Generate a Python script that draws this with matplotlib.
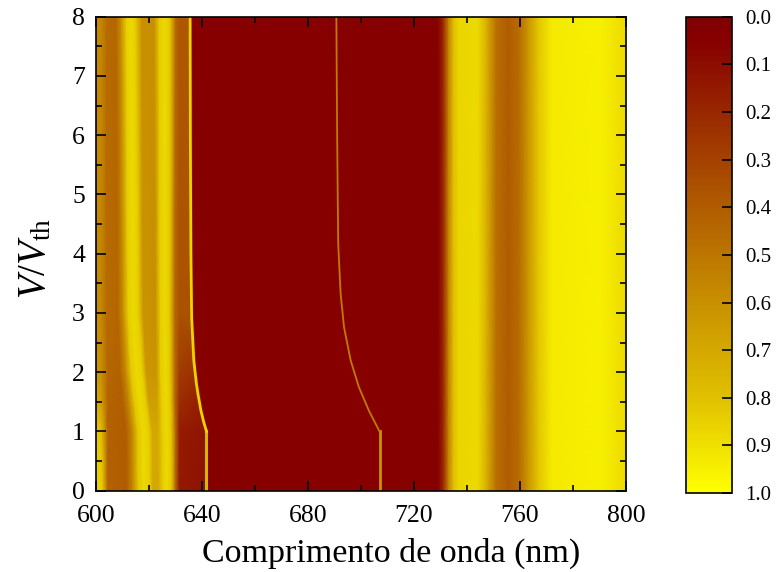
import numpy as np
import matplotlib
matplotlib.use("Agg")
import matplotlib.pyplot as plt
from matplotlib.colors import LinearSegmentedColormap

plt.rcParams['font.family'] = ['Liberation Serif', 'DejaVu Serif']
plt.rcParams['mathtext.fontset'] = 'custom'
plt.rcParams['mathtext.rm'] = 'Liberation Serif'
plt.rcParams['mathtext.it'] = 'Liberation Serif:italic'

# rows of the map (V/Vth)
V_ROWS = [0, 1, 1.5, 2, 3, 8]

# left block (600 nm .. just past the first sharp line), knots move with V
LEFT_WL = [
    [600, 602.3, 604.5, 611.5, 614, 616, 618, 620.2, 621.5, 623.5, 625.2, 626.8, 628.5, 630, 631.5, 640.8, 642.8],
    [600, 602, 604.5, 611.3, 613.8, 615.8, 617.8, 620, 621.3, 623.3, 625.1, 626.7, 628.4, 630, 631.5, 640.5, 642.6],
    [600, 602, 604.5, 610, 612.5, 614.5, 616.5, 618.7, 620, 623, 624.8, 626.5, 628.2, 629.8, 631.5, 638.6, 640.3],
    [600, 602, 604.5, 609, 611.3, 613.3, 615.3, 617.5, 619, 622.8, 624.5, 626.3, 628, 629.8, 631.5, 636.8, 638.4],
    [600, 602, 604, 608.3, 610.3, 612.2, 614, 616, 617.8, 622.5, 624.3, 626.1, 627.9, 629.8, 631.5, 635.3, 637],
    [600, 602, 604, 607.5, 609.5, 611.5, 613.2, 614.8, 617.2, 622, 624, 626, 628, 630, 631.5, 634.8, 636.5],
]
LEFT_T = [
    [0.86, 0.84, 0.42, 0.40, 0.58, 0.82, 0.88, 0.84, 0.70, 0.70, 0.84, 0.88, 0.82, 0.45, 0.15, 0.12, 0.05],
    [0.84, 0.80, 0.42, 0.40, 0.58, 0.82, 0.88, 0.84, 0.70, 0.70, 0.84, 0.88, 0.82, 0.45, 0.16, 0.13, 0.05],
    [0.72, 0.66, 0.43, 0.41, 0.58, 0.82, 0.88, 0.84, 0.66, 0.66, 0.84, 0.88, 0.82, 0.45, 0.22, 0.17, 0.05],
    [0.64, 0.60, 0.44, 0.42, 0.58, 0.83, 0.88, 0.84, 0.63, 0.62, 0.84, 0.88, 0.82, 0.45, 0.28, 0.24, 0.05],
    [0.60, 0.57, 0.46, 0.44, 0.60, 0.84, 0.88, 0.84, 0.62, 0.60, 0.84, 0.88, 0.82, 0.45, 0.36, 0.36, 0.05],
    [0.58, 0.56, 0.46, 0.44, 0.60, 0.85, 0.88, 0.84, 0.60, 0.60, 0.84, 0.88, 0.82, 0.45, 0.38, 0.38, 0.05],
]

# right block, same for every row
RIGHT_WL = [660, 700, 729, 731, 733, 735, 737, 744, 747.5, 751, 755.5, 759.5, 763, 767, 772, 790, 795, 800]
RIGHT_T = [0.05, 0.05, 0.05, 0.20, 0.55, 0.80, 0.87, 0.88, 0.72, 0.48, 0.40, 0.46, 0.62, 0.82, 0.93, 0.95, 0.92, 0.88]

# sharp resonance lines
LINE1_V = [0, 1.0, 1.15, 1.35, 1.6, 1.8, 2.2, 2.9, 4, 6, 8]
LINE1_WL = [641.7, 641.7, 640.7, 639.6, 638.6, 637.9, 636.9, 636.1, 635.8, 635.6, 635.5]
LINE2_V = [0, 1.0, 1.35, 1.75, 2.2, 2.76, 3.33, 4.17, 6, 8]
LINE2_WL = [707.0, 707.0, 703.0, 699.2, 696.1, 693.6, 692.3, 691.4, 691.0, 690.7]

cmap = LinearSegmentedColormap.from_list(
    "hot2", [(0.0, "#800000"), (0.05, "#870000"), (0.4, "#b05c00"),
             (0.6, "#c89000"), (0.8, "#e0c000"), (1.0, "#ffff00")])

X = np.array([row + RIGHT_WL for row in LEFT_WL], dtype=float)
C = np.array([row + RIGHT_T for row in LEFT_T], dtype=float)
Y = np.repeat(np.array(V_ROWS, dtype=float)[:, None], X.shape[1], axis=1)

fig = plt.figure(figsize=(7.76, 5.72), dpi=100)
ax = fig.add_axes([0.1237, 0.1421, 0.8067 - 0.1237, 0.9708 - 0.1421])
cax = fig.add_axes([0.884, 0.138, 0.943 - 0.884, 0.9708 - 0.138])

mesh = ax.pcolormesh(X, Y, C, shading='gouraud', cmap=cmap, vmin=0, vmax=1)
# flat part below V = Vth is wider and a bit darker than the curved part
ax.plot(LINE1_WL[:2], LINE1_V[:2], color=cmap(0.75), lw=2.2)
ax.plot(LINE1_WL[1:], LINE1_V[1:], color=cmap(0.86), lw=2.0, solid_joinstyle='miter')
ax.plot(LINE2_WL[:2], LINE2_V[:2], color=cmap(0.62), lw=2.0)
ax.plot(LINE2_WL[1:], LINE2_V[1:], color=cmap(0.52), lw=1.3, solid_joinstyle='miter')

ax.set_xlim(600, 800)
ax.set_ylim(0, 8)
ax.set_xticks(np.arange(600, 801, 40))
ax.set_xticks(np.arange(600, 801, 20), minor=True)
ax.set_yticks(np.arange(0, 9, 1))
ax.set_yticks(np.arange(0, 8.01, 0.5), minor=True)
ax.tick_params(which='both', direction='in', top=True, right=True, width=1.2)
ax.tick_params(which='major', length=7, labelsize=18.5)
ax.tick_params(which='minor', length=4)
ax.tick_params(axis='x', pad=10)
ax.tick_params(axis='y', pad=8)
for sp in ax.spines.values():
    sp.set_linewidth(1.2)

ax.set_xlabel("Comprimento de onda (nm)", fontsize=24.5)
ax.xaxis.set_label_coords(0.557, -0.10)
ax.set_ylabel("$V$/$V_{\\mathrm{th}}$", fontsize=28)
ax.yaxis.set_label_coords(-0.079, 0.49)

cb = fig.colorbar(mesh, cax=cax)
cb.set_ticks(np.arange(0, 1.01, 0.1))
cb.ax.set_yticklabels([f"{t:.1f}" for t in np.arange(0, 1.01, 0.1)])
cax.invert_yaxis()
cax.tick_params(direction='in', length=7, width=1.2, labelsize=15, pad=10)
cb.outline.set_linewidth(1.2)

fig.savefig("out.png", dpi=100)
